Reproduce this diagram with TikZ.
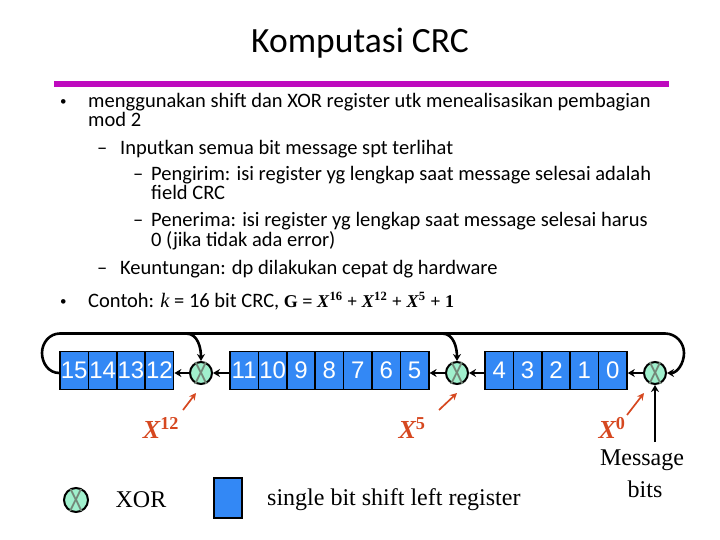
\documentclass[tikz,border=0pt]{standalone}
\usepackage{fontspec}
\setmainfont{Liberation Serif}
\newfontfamily\slidefont{Carlito}
\newfontfamily\cellfont{Liberation Sans}
\definecolor{regblue}{RGB}{51,136,245}
\definecolor{xorgreen}{RGB}{160,240,205}
\definecolor{xorgray}{RGB}{115,135,120}
\definecolor{tapred}{RGB}{214,72,32}
\definecolor{rulepurple}{RGB}{190,10,190}
\tikzset{
  regcell/.style={draw,line width=1.6pt,fill=regblue,text=white,minimum width=28.4pt,minimum height=38pt,inner sep=0pt,font=\cellfont\fontsize{24}{24}\selectfont},
  xorgate/.style={circle,draw,line width=2pt,fill=xorgreen,minimum size=22pt,inner sep=0pt,
    label={[text=xorgray,inner sep=0pt,font=\cellfont\fontsize{32}{32}\selectfont]center:\scalebox{.68}[1]{X}}},
  textline/.style={anchor=base west,inner sep=0pt,font=\slidefont\fontsize{20.5}{20.5}\selectfont},
  dotmark/.style={anchor=base west,inner sep=0pt,font=\slidefont\fontsize{13}{13}\selectfont},
  bigtext/.style={inner sep=0pt,font=\fontsize{24}{24}\selectfont},
  tapname/.style={inner sep=0pt,text=tapred,font=\bfseries\itshape\fontsize{26}{26}\selectfont},
  wire/.style={line width=2.6pt,-{Stealth[length=7pt,width=8pt]}},
  tap/.style={line width=1.7pt,tapred,-{Stealth[length=7pt,width=7pt]}}
}
\usetikzlibrary{arrows.meta}
\begin{document}
\begin{tikzpicture}[x=1pt,y=-1pt]
  \useasboundingbox (0,0) rectangle (720,540);
  \node[inner sep=0pt,font=\slidefont\fontsize{35.5}{35.5}\selectfont] (title) at (360,43) {Komputasi CRC};
  \fill[rulepurple] (54,81) rectangle (669,87);
  % bullet text
  \node[dotmark] (b1) at (60,106) {•};
  \node[textline] (t1) at (88,108) {menggunakan shift dan XOR register utk menealisasikan pembagian};
  \node[textline] (t2) at (88,127) {mod 2};
  \node[textline] (d1) at (97,155) {–};
  \node[textline] (t3) at (120,155) {Inputkan semua bit message spt terlihat};
  \node[textline] (d2) at (133,181) {–};
  \node[textline] (t4) at (151,181) {Pengirim:  isi register yg lengkap saat message selesai adalah};
  \node[textline] (t5) at (151,200) {field CRC};
  \node[textline] (d3) at (133,226) {–};
  \node[textline] (t6) at (151,226) {Penerima:  isi register yg lengkap saat message selesai harus};
  \node[textline] (t7) at (151,246) {0 (jika tidak ada error)};
  \node[textline] (d4) at (97,274) {–};
  \node[textline] (t8) at (120,274) {Keuntungan:  dp dilakukan cepat dg hardware};
  \node[dotmark] (b2) at (60,305) {•};
  \node[textline] (t9) at (88,307) {Contoh:  {\rmfamily\itshape k} = 16 bit CRC, {\rmfamily\bfseries\fontsize{18}{18}\selectfont G = \textit{X}\textsuperscript{16} + \textit{X}\textsuperscript{12} + \textit{X}\textsuperscript{5} + 1}};
  % registers
  \foreach \bit [count=\i from 0] in {15,14,13,12}
    \node[regcell] (r\bit) at ({74.2+28.4*\i},370.5) {\bit};
  \foreach \bit [count=\i from 0] in {11,10,9,8,7,6,5}
    \node[regcell] (r\bit) at ({244.2+28.4*\i},370.5) {\bit};
  \foreach \bit [count=\i from 0] in {4,3,2,1,0}
    \node[regcell] (r\bit) at ({499.2+28.4*\i},370.5) {\bit};
  % xor gates
  \node[xorgate] (x12) at (201,373) {};
  \node[xorgate] (x5) at (457,373) {};
  \node[xorgate] (x0) at (655,373) {};
  \draw[wire] (r11.west |- x12) -- (x12);
  \draw[wire] (x12) -- (r12.east |- x12);
  \draw[wire] (r4.west |- x5) -- (x5);
  \draw[wire] (x5) -- (r5.east |- x5);
  \draw[wire] (x0) -- (r0.east |- x0);
  % feedback
  \coordinate (topl) at (60,333.5);
  \coordinate (topr) at (665,333.5);
  \draw[wire] (r15.west |- x12) to[out=180,in=270] (42,353) to[out=90,in=180] (topl) -- (topr) to[out=0,in=90] (684,353) to[out=270,in=0] (x0.east);
  \draw[wire] (186,333.5) to[out=0,in=90] (x12.north);
  \draw[wire] (442,333.5) to[out=0,in=90] (x5.north);
  % taps
  \coordinate (a12) at (183,410);
  \coordinate (a5) at (439,410);
  \coordinate (a0) at (627,415);
  \draw[tap] (a12) -- (196,393);
  \draw[tap] (a5) -- (457,393);
  \draw[tap] (a0) -- (644,393);
  \node[tapname] (n12) at (161,428) {X\textsuperscript{\upshape 12}};
  \node[tapname] (n5) at (412,428) {X\textsuperscript{\upshape 5}};
  \node[tapname] (n0) at (612,428) {X\textsuperscript{\upshape 0}};
  % message input
  \node[bigtext] (msg1) at (642,460) {Message};
  \node[bigtext] (msg2) at (645,489) {bits};
  \coordinate (msgin) at (655,442);
  \draw[wire] (msgin) -- (x0.south);
  % legend
  \node[xorgate,minimum size=24pt] (legx) at (76,500) {};
  \node[bigtext] (legxt) at (141,500) {XOR};
  \node[regcell,minimum height=40pt] (legr) at (228,498) {};
  \node[bigtext,anchor=base west] (legrt) at (267,505) {single bit shift left register};
\end{tikzpicture}
\end{document}
